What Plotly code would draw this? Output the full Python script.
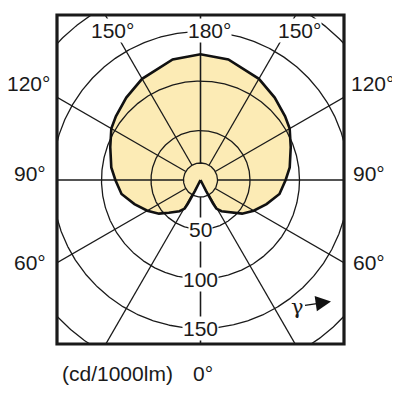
import numpy as np
import plotly.graph_objects as go

# 光强分布 (cd/1000lm)，γ=0 朝下，左右对称
gamma = [0, 25, 27, 28, 29, 34, 44, 51, 60, 70, 80, 90, 98, 110, 120, 127, 138, 150, 167, 180]
intensity = [0, 2, 12, 27, 33, 38, 46, 54, 62, 71, 81, 86, 91, 97, 104, 107, 112, 118, 125, 127]

ring_values = [17.2, 50, 100, 150, 200]
ring_labels = ["", "50", "100", "150", ""]
ray_angles = [0, 30, 60, 90, 120, 150, 180]

top_labels = ["150°", "180°", "150°"]
side_labels = ["120°", "90°", "60°"]
unit_label = "(cd/1000lm)"
zero_label = "0°"

OFF = 8           # 页面 body 的默认边距
W, H = 392, 384
S = 0.99          # 像素 / cd
CX, CY = 200.5 - OFF, 180 - OFF
L, R, T, B = 57 - OFF, 344 - OFF, 15 - OFF, 344 - OFF


def to_xy(r, g_deg, side=1):
    g = np.radians(g_deg)
    return side * np.asarray(r) * np.sin(g), -np.asarray(r) * np.cos(g)


fig = go.Figure()

# 曲线：右半边 0->180，左半边 180->0
xr, yr = to_xy(intensity, np.array(gamma), 1)
xl, yl = to_xy(intensity[::-1], np.array(gamma[::-1]), -1)
cx = np.concatenate([xr, xl])
cy = np.concatenate([yr, yl])

fig.add_trace(go.Scatter(x=cx, y=cy, mode="lines", fill="toself",
                         fillcolor="#FCEBB5", line=dict(width=0),
                         hoverinfo="skip", showlegend=False))

# 同心圆
t = np.linspace(0, 2 * np.pi, 721)
for rv in ring_values:
    fig.add_trace(go.Scatter(x=rv * np.cos(t), y=rv * np.sin(t), mode="lines",
                             line=dict(color="#1a1a1a", width=1.3),
                             hoverinfo="skip", showlegend=False))

# 射线（从内圆开始）
rx, ry = [], []
for a in ray_angles:
    for side in (1, -1):
        x0, y0 = to_xy([ring_values[0], 400], a, side)
        rx += [x0[0], x0[1], None]
        ry += [y0[0], y0[1], None]
fig.add_trace(go.Scatter(x=rx, y=ry, mode="lines",
                         line=dict(color="#1a1a1a", width=1.3),
                         hoverinfo="skip", showlegend=False))

# 曲线轮廓
fig.add_trace(go.Scatter(x=cx, y=cy, mode="lines",
                         line=dict(color="#111111", width=2.6),
                         hoverinfo="skip", showlegend=False))

font = dict(family="Liberation Sans, Arial, sans-serif", size=21, color="#1a1a1a")


def px_ann(text, px, py, bg=None):
    px, py = px - OFF, py - OFF
    fig.add_annotation(x=(px - L) / (R - L), y=(B - py) / (B - T),
                       xref="paper", yref="paper", text=text, showarrow=False,
                       font=font, xanchor="center", yanchor="middle",
                       bgcolor=bg, borderpad=0)


# 环刻度
for rv, lab in zip(ring_values, ring_labels):
    if lab:
        fig.add_annotation(x=0, y=-rv, text=lab, showarrow=False, font=font,
                           bgcolor="white", borderpad=0)

for lab, (px, py) in zip(top_labels, [(112, 30), (209, 30.5), (299, 30)]):
    px_ann(lab, px, py, bg="white")

for lab, py in zip(side_labels, [83.5, 173, 262]):
    px_ann(lab, 30 if lab != "120°" else 28, py)
    px_ann(lab, 369 if lab != "120°" else 372, py)

px_ann(unit_label, 117, 373)
px_ann(zero_label, 203, 373)

# γ 箭头
fig.add_annotation(x=(331 - OFF - CX) / S, y=(CY - 301.5 + OFF) / S, ax=-34, ay=5,
                   text="γ", showarrow=True, arrowhead=2, arrowsize=2.2,
                   arrowwidth=1.4, arrowcolor="#111111", standoff=0,
                   font=dict(family="DejaVu Serif, serif", size=21, color="#1a1a1a"))

# 外框
fig.add_shape(type="rect", xref="paper", yref="paper", x0=0, y0=0, x1=1, y1=1,
              line=dict(color="#1a1a1a", width=3.2), layer="above")

fig.update_xaxes(range=[-(CX - L) / S, (R - CX) / S], visible=False, fixedrange=True)
fig.update_yaxes(range=[-(B - CY) / S, (CY - T) / S], visible=False, fixedrange=True)

fig.update_layout(width=W, height=H,
                  margin=dict(l=L, r=W - R, t=T, b=H - B),
                  plot_bgcolor="white", paper_bgcolor="white",
                  showlegend=False)

fig.write_html("out.html")
